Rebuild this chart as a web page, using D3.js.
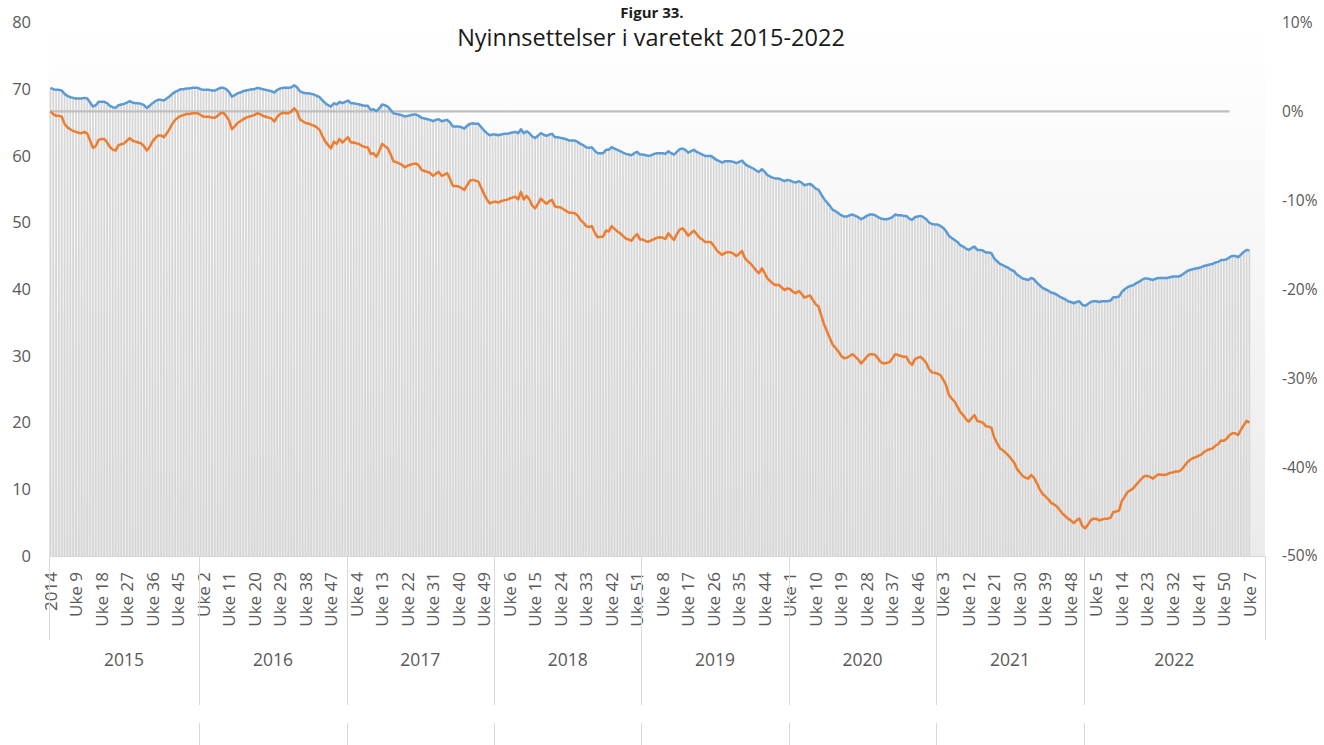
<!DOCTYPE html>
<html lang="no">
<head>
<meta charset="utf-8">
<title>Nyinnsettelser i varetekt 2015-2022</title>
<script src="https://cdn.jsdelivr.net/npm/d3@7"></script>
<style>
  html, body { margin: 0; padding: 0; background: #ffffff; }
  svg { display: block; font-family: "Open Sans", "Lato", sans-serif; }
</style>
</head>
<body>
<svg id="chart" width="1324" height="745"></svg>
<script>
// Category structure: one leading week from 2014, then 52 weeks per year,
// with the last group running on into the first weeks of the next year.
const firstLabel = "2014";
const years = [2015, 2016, 2017, 2018, 2019, 2020, 2021, 2022];
const weeksPerYear = 52;
const tailWeeks = 12;
const labelEvery = 9;

// Left axis ticks (antall) and right axis ticks (prosent)
const leftTicks = [0, 10, 20, 30, 40, 50, 60, 70, 80];
const rightTicks = [-50, -40, -30, -20, -10, 0, 10];

// Weekly level (left axis), also drawn as grey columns
const nivaa = [
  70.2, 70.0, 69.9, 69.9, 69.8, 69.3, 69.0, 68.8, 68.7, 68.6,
  68.6, 68.6, 68.7, 68.6, 68.0, 67.4, 67.6, 68.1, 68.1, 68.1,
  67.9, 67.5, 67.3, 67.2, 67.6, 67.7, 67.8, 68.0, 68.2, 68.0,
  67.9, 67.9, 67.8, 67.6, 67.2, 67.5, 67.9, 68.2, 68.4, 68.4,
  68.3, 68.6, 68.9, 69.3, 69.6, 69.8, 70.0, 70.0, 70.1, 70.1,
  70.2, 70.2, 70.2, 70.0, 69.9, 69.9, 69.9, 69.8, 69.8, 70.0,
  70.2, 70.2, 70.0, 69.6, 68.9, 69.1, 69.4, 69.5, 69.7, 69.8,
  69.9, 70.0, 70.0, 70.2, 70.1, 70.0, 69.9, 69.8, 69.7, 69.5,
  69.9, 70.1, 70.2, 70.2, 70.2, 70.3, 70.6, 70.3, 69.7, 69.5,
  69.4, 69.4, 69.3, 69.2, 69.0, 68.8, 68.3, 67.9, 67.6, 67.4,
  67.9, 67.7, 68.1, 67.9, 68.1, 68.3, 67.9, 67.9, 67.8, 67.7,
  67.6, 67.5, 67.5, 66.9, 67.0, 66.7, 67.1, 67.7, 67.6, 67.4,
  66.9, 66.4, 66.3, 66.2, 66.1, 65.9, 66.0, 66.1, 66.2, 66.2,
  66.0, 65.7, 65.6, 65.5, 65.4, 65.2, 65.4, 65.5, 65.2, 65.3,
  65.4, 65.0, 64.4, 64.4, 64.4, 64.3, 64.1, 64.5, 64.8, 64.9,
  64.8, 64.8, 64.3, 63.8, 63.4, 63.1, 63.2, 63.2, 63.1, 63.2,
  63.3, 63.3, 63.4, 63.5, 63.6, 63.4, 64.0, 63.4, 63.7, 63.4,
  62.9, 62.7, 63.0, 63.4, 63.2, 63.0, 63.2, 63.3, 62.8, 62.8,
  62.7, 62.6, 62.5, 62.3, 62.3, 62.3, 62.1, 61.8, 61.6, 61.3,
  61.2, 61.3, 60.8, 60.4, 60.4, 60.4, 60.9, 60.9, 61.3, 61.1,
  60.9, 60.7, 60.5, 60.3, 60.2, 60.1, 60.4, 60.6, 60.2, 60.2,
  60.1, 60.0, 60.1, 60.3, 60.4, 60.4, 60.4, 60.3, 60.7, 60.4,
  60.2, 60.6, 61.0, 61.1, 60.9, 60.5, 60.7, 60.9, 60.6, 60.4,
  60.2, 60.0, 60.0, 60.0, 59.7, 59.4, 59.2, 59.0, 59.2, 59.2,
  59.2, 59.1, 58.9, 59.1, 59.3, 58.8, 58.5, 58.3, 58.1, 57.8,
  57.6, 58.0, 57.6, 57.1, 56.9, 56.7, 56.6, 56.6, 56.4, 56.2,
  56.4, 56.3, 56.1, 56.0, 56.2, 56.0, 55.6, 55.7, 55.8, 55.5,
  55.1, 54.9, 54.2, 53.5, 53.0, 52.5, 51.9, 51.7, 51.4, 51.1,
  50.9, 50.9, 51.1, 51.2, 51.0, 50.8, 50.5, 50.7, 51.0, 51.2,
  51.2, 51.1, 50.8, 50.6, 50.5, 50.5, 50.6, 50.8, 51.2, 51.1,
  51.1, 51.0, 51.0, 50.6, 50.4, 50.8, 50.9, 51.0, 50.8, 50.5,
  50.0, 49.8, 49.7, 49.7, 49.5, 49.2, 48.7, 48.0, 47.7, 47.4,
  47.1, 46.6, 46.4, 46.1, 45.9, 46.2, 46.4, 45.9, 45.9, 45.8,
  45.5, 45.5, 45.4, 44.6, 44.2, 43.8, 43.6, 43.4, 43.2, 42.9,
  42.7, 42.2, 41.9, 41.6, 41.5, 41.4, 41.7, 41.5, 41.0, 40.6,
  40.2, 40.0, 39.8, 39.5, 39.4, 39.2, 38.9, 38.7, 38.5, 38.2,
  38.1, 37.9, 38.1, 38.2, 37.7, 37.5, 37.8, 38.1, 38.2, 38.2,
  38.1, 38.2, 38.2, 38.2, 38.3, 38.8, 38.8, 38.9, 39.6, 40.0,
  40.3, 40.5, 40.6, 40.9, 41.1, 41.4, 41.6, 41.6, 41.5, 41.4,
  41.6, 41.7, 41.7, 41.7, 41.7, 41.8, 41.9, 41.9, 41.9, 42.1,
  42.4, 42.7, 42.9, 43.0, 43.1, 43.2, 43.3, 43.5, 43.6, 43.7,
  43.8, 44.0, 44.1, 44.4, 44.4, 44.5, 44.8, 45.0, 45.0, 44.8,
  45.2, 45.6, 45.9, 45.8
];

// Weekly change in percent (right axis)
const endring = [
  0.0, -0.3, -0.5, -0.5, -0.6, -1.4, -1.8, -2.0, -2.2, -2.3,
  -2.4, -2.45, -2.3, -2.5, -3.3, -4.1, -3.9, -3.2, -3.1, -3.1,
  -3.5, -4.0, -4.3, -4.4, -3.8, -3.7, -3.6, -3.3, -3.0, -3.3,
  -3.4, -3.5, -3.6, -3.9, -4.4, -4.0, -3.4, -3.0, -2.7, -2.7,
  -2.9, -2.5, -2.0, -1.4, -0.95, -0.7, -0.5, -0.4, -0.3, -0.3,
  -0.2, -0.2, -0.2, -0.4, -0.6, -0.6, -0.6, -0.7, -0.7, -0.5,
  -0.2, -0.15, -0.5, -1.0, -2.0, -1.7, -1.3, -1.1, -0.9, -0.7,
  -0.6, -0.5, -0.4, -0.2, -0.3, -0.5, -0.6, -0.7, -0.8, -1.15,
  -0.6, -0.3, -0.15, -0.2, -0.2, 0.0, 0.35, 0.0, -0.9, -1.1,
  -1.3, -1.35, -1.5, -1.6, -1.8, -2.1, -2.8, -3.4, -3.8, -4.15,
  -3.4, -3.65, -3.1, -3.5, -3.2, -2.9, -3.5, -3.5, -3.6, -3.7,
  -3.9, -4.0, -4.05, -4.8, -4.7, -5.1, -4.5, -3.65, -3.9, -4.15,
  -4.8, -5.6, -5.7, -5.85, -6.0, -6.3, -6.1, -6.0, -5.9, -5.85,
  -6.1, -6.6, -6.7, -6.8, -6.95, -7.25, -7.0, -6.8, -7.25, -7.1,
  -6.95, -7.6, -8.4, -8.4, -8.45, -8.6, -8.85, -8.3, -7.8, -7.7,
  -7.8, -7.9, -8.6, -9.3, -9.9, -10.35, -10.2, -10.15, -10.25, -10.1,
  -10.0, -9.95, -9.8, -9.7, -9.6, -9.9, -9.05, -9.9, -9.5, -9.9,
  -10.6, -10.9, -10.4, -9.8, -10.1, -10.4, -10.1, -9.95, -10.7, -10.75,
  -10.8, -11.0, -11.2, -11.4, -11.4, -11.45, -11.7, -12.2, -12.5, -12.9,
  -13.0, -12.9, -13.6, -14.15, -14.1, -14.1, -13.4, -13.5, -12.9, -13.2,
  -13.5, -13.7, -14.0, -14.3, -14.4, -14.55, -14.1, -13.8, -14.4, -14.4,
  -14.6, -14.65, -14.5, -14.35, -14.2, -14.15, -14.2, -14.35, -13.7, -14.1,
  -14.45, -13.8, -13.3, -13.15, -13.5, -14.0, -13.7, -13.4, -13.8, -14.2,
  -14.4, -14.7, -14.7, -14.7, -15.1, -15.6, -15.9, -16.15, -15.9, -15.85,
  -15.85, -16.0, -16.25, -16.0, -15.7, -16.5, -16.85, -17.1, -17.5, -17.9,
  -18.2, -17.65, -18.2, -18.8, -19.1, -19.4, -19.55, -19.5, -19.8, -20.1,
  -19.9, -20.0, -20.3, -20.45, -20.2, -20.5, -20.95, -20.8, -20.7, -21.2,
  -21.7, -21.95, -23.0, -24.0, -24.75, -25.5, -26.25, -26.6, -27.0, -27.5,
  -27.75, -27.7, -27.5, -27.3, -27.6, -27.9, -28.35, -28.0, -27.6, -27.3,
  -27.3, -27.4, -27.8, -28.2, -28.35, -28.3, -28.2, -27.8, -27.3, -27.4,
  -27.5, -27.6, -27.6, -28.2, -28.5, -27.85, -27.7, -27.6, -27.9, -28.3,
  -29.0, -29.35, -29.4, -29.5, -29.65, -30.2, -30.8, -31.9, -32.3, -32.65,
  -33.2, -33.8, -34.15, -34.6, -34.9, -34.5, -34.15, -34.8, -34.9, -35.0,
  -35.4, -35.45, -35.6, -36.7, -37.3, -37.9, -38.1, -38.4, -38.7, -39.1,
  -39.5, -40.2, -40.6, -41.0, -41.2, -41.3, -40.9, -41.2, -41.8, -42.5,
  -43.0, -43.3, -43.6, -44.0, -44.2, -44.4, -44.8, -45.2, -45.5, -45.8,
  -46.0, -46.3, -46.0, -45.8, -46.6, -46.9, -46.5, -46.0, -45.8, -45.8,
  -46.0, -45.9, -45.8, -45.8, -45.7, -45.05, -45.0, -44.9, -43.8, -43.35,
  -42.8, -42.6, -42.4, -42.0, -41.65, -41.3, -41.0, -41.0, -41.1, -41.3,
  -41.0, -40.8, -40.85, -40.9, -40.8, -40.65, -40.6, -40.5, -40.5, -40.3,
  -39.9, -39.5, -39.2, -39.0, -38.9, -38.75, -38.6, -38.3, -38.1, -38.0,
  -37.9, -37.6, -37.4, -37.0, -37.05, -36.8, -36.4, -36.2, -36.2, -36.4,
  -35.8, -35.3, -34.8, -35.0
];

// Zero reference on the right axis, through the last week of 2022
const nullLinjeVerdi = 0;

// ---- build the category list and year groups ----
const categories = [firstLabel];
const groups = [];
years.forEach((y, k) => {
  const start = categories.length;
  for (let w = 1; w <= weeksPerYear; w++) categories.push("Uke " + w);
  if (k === years.length - 1) {
    for (let w = 1; w <= tailWeeks; w++) categories.push("Uke " + w);
  }
  groups.push({ year: y, start: k === 0 ? 0 : start, end: categories.length });
});
const N = categories.length;
const lastYearEnd = groups[groups.length - 1].start + weeksPerYear - 1;

// ---- layout ----
const plot = { left: 49, right: 1265, top: 22.5, bottom: 556 };
const svg = d3.select("#chart");
const textColor = "#595959";
const ruleColor = "#d9d9d9";
const fontFamily = "'Open Sans', Lato, sans-serif";

const x = d3.scaleBand()
  .domain(d3.range(N))
  .range([plot.left, plot.right])
  .paddingInner(0.38)
  .paddingOuter(0.19);
const step = x.step();
const cx = i => x(i) + x.bandwidth() / 2;

const yLeft = d3.scaleLinear().domain([0, 80]).range([plot.bottom, plot.top]);
const yRight = d3.scaleLinear().domain([-50, 10]).range([plot.bottom, plot.top]);

// plot-area background: soft vertical gradient
const defs = svg.append("defs");
const grad = defs.append("linearGradient")
  .attr("id", "plotBg").attr("x1", 0).attr("y1", 0).attr("x2", 0).attr("y2", 1);
grad.append("stop").attr("offset", "0%").attr("stop-color", "#ffffff");
grad.append("stop").attr("offset", "100%").attr("stop-color", "#ebebeb");

svg.append("rect")
  .attr("x", plot.left).attr("y", plot.top)
  .attr("width", plot.right - plot.left).attr("height", plot.bottom - plot.top)
  .attr("fill", "url(#plotBg)");

// columns
svg.append("g")
  .selectAll("rect")
  .data(nivaa)
  .join("rect")
  .attr("x", (d, i) => x(i))
  .attr("width", x.bandwidth())
  .attr("y", d => yLeft(d))
  .attr("height", d => yLeft(0) - yLeft(d))
  .attr("fill", "#d6d6d6");

// zero reference line
const zeroIdx = d3.range(lastYearEnd + 1);
svg.append("path")
  .datum(zeroIdx)
  .attr("fill", "none")
  .attr("stroke", "#bfbfbf")
  .attr("stroke-width", 2.2)
  .attr("d", d3.line().x(i => cx(i)).y(() => yRight(nullLinjeVerdi)));

// level line (left axis)
svg.append("path")
  .datum(nivaa)
  .attr("fill", "none")
  .attr("stroke", "#5b9bd5")
  .attr("stroke-width", 2.5)
  .attr("stroke-linejoin", "round")
  .attr("d", d3.line().x((d, i) => cx(i)).y(d => yLeft(d)));

// change line (right axis)
svg.append("path")
  .datum(endring)
  .attr("fill", "none")
  .attr("stroke", "#ed7d31")
  .attr("stroke-width", 2.5)
  .attr("stroke-linejoin", "round")
  .attr("d", d3.line().x((d, i) => cx(i)).y(d => yRight(d)));

// bottom axis line
svg.append("line")
  .attr("x1", plot.left).attr("x2", plot.right)
  .attr("y1", plot.bottom + 0.5).attr("y2", plot.bottom + 0.5)
  .attr("stroke", ruleColor);

// left axis
const leftAxis = svg.append("g")
  .attr("transform", `translate(${plot.left - 18},0)`)
  .call(d3.axisLeft(yLeft).tickValues(leftTicks).tickSize(0).tickPadding(0));
leftAxis.select(".domain").remove();
leftAxis.selectAll("text")
  .attr("fill", textColor).attr("font-size", 16.5)
  .attr("font-family", fontFamily).attr("font-weight", 400);

// right axis
const rightAxis = svg.append("g")
  .attr("transform", `translate(${plot.right + 17},0)`)
  .call(d3.axisRight(yRight).tickValues(rightTicks).tickSize(0).tickPadding(0)
    .tickFormat(d => d + "%"));
rightAxis.select(".domain").remove();
rightAxis.selectAll("text")
  .attr("fill", textColor).attr("font-size", 15.5)
  .attr("font-family", fontFamily).attr("font-weight", 400);

// week labels, rotated
svg.append("g")
  .selectAll("text")
  .data(d3.range(0, N, labelEvery))
  .join("text")
  .attr("transform", i => `translate(${cx(i)},${plot.bottom + 16}) rotate(-90)`)
  .attr("text-anchor", "end")
  .attr("dy", "0.36em")
  .attr("font-size", 17)
  .attr("fill", textColor)
  .text(i => categories[i]);

// outer edges of the week level
[plot.left, plot.right].forEach(px => {
  svg.append("line")
    .attr("x1", px + 0.5).attr("x2", px + 0.5)
    .attr("y1", plot.bottom).attr("y2", 640)
    .attr("stroke", ruleColor);
});

// year dividers (two levels below the weeks)
const dividers = groups.slice(1).map(g => plot.left + g.start * step);
const divG = svg.append("g").attr("stroke", ruleColor);
dividers.forEach(px => {
  divG.append("line").attr("x1", Math.round(px) + 0.5).attr("x2", Math.round(px) + 0.5)
    .attr("y1", plot.bottom).attr("y2", 705);
  divG.append("line").attr("x1", Math.round(px) + 0.5).attr("x2", Math.round(px) + 0.5)
    .attr("y1", 723).attr("y2", 745);
});

// year labels
svg.append("g")
  .selectAll("text")
  .data(groups)
  .join("text")
  .attr("x", g => plot.left + (g.start + g.end) / 2 * step)
  .attr("y", 660)
  .attr("dy", "0.35em")
  .attr("text-anchor", "middle")
  .attr("font-size", 17.5)
  .attr("fill", textColor)
  .text(g => g.year);

// titles
svg.append("text")
  .attr("x", 652).attr("y", 18)
  .attr("text-anchor", "middle")
  .attr("font-size", 15).attr("font-weight", 700)
  .attr("fill", "#1a1a1a")
  .text("Figur 33.");
svg.append("text")
  .attr("x", 651).attr("y", 46)
  .attr("text-anchor", "middle")
  .attr("font-size", 23.5)
  .attr("font-weight", 400)
  .attr("fill", "#1a1a1a")
  .text("Nyinnsettelser i varetekt 2015-2022");
</script>
</body>
</html>
